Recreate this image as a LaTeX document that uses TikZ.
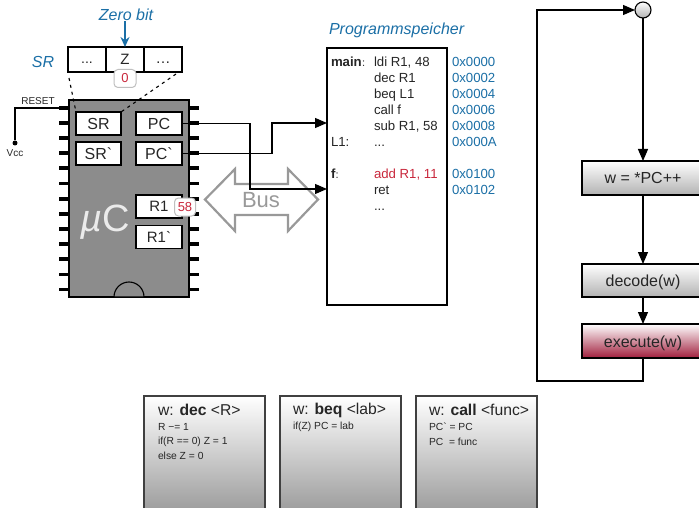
\documentclass[tikz,border=0pt]{standalone}
\usepackage{fontspec}
\newfontfamily\lib{Liberation Sans}
\usetikzlibrary{arrows.meta,shapes.geometric}
\definecolor{chipgray}{HTML}{8C8C8C}
\definecolor{infoblue}{HTML}{1B6FA6}
\definecolor{hotred}{HTML}{C9283C}
\definecolor{execred}{HTML}{A01E3C}
\definecolor{busgray}{HTML}{999999}
\newcommand{\fs}[1]{\fontsize{#1}{#1}\selectfont}
\tikzset{
  every node/.style={font=\lib\fs{13},inner sep=0pt,outer sep=0pt,text=black!85},
  cell/.style={draw=black,line width=1.1pt,fill=white,minimum width=#1,anchor=north west},
  reg/.style={cell=46pt,minimum height=23pt,font=\lib\fs{16}},
  pin/.style={line width=3.2pt,black},
  conn/.style={line width=1.2pt,black},
  flow/.style={conn,-{Triangle[length=12pt,width=10pt]}},
  dashline/.style={line width=1.1pt,black,dash pattern=on 3pt off 4pt},
  badge/.style={draw=black!25,line width=1pt,fill=white,rounded corners=4pt,text=hotred,anchor=north west},
  stepbox/.style={draw=black,line width=1.1pt,minimum width=122pt,top color=white,bottom color=black!30,font=\lib\fs{16},anchor=north west},
  card/.style={draw=black!75,line width=1.1pt,minimum width=121pt,minimum height=125pt,top color=white,bottom color=black!42,anchor=north west},
  cardhead/.style={anchor=west,font=\lib\fs{15.7}},
  cardbody/.style={anchor=west,font=\lib\fs{10.3}},
  memtext/.style={anchor=west,font=\lib\fs{13.2},text height=9.5pt,text depth=2.5pt},
  addr/.style={anchor=west,font=\lib\fs{13.2},text=infoblue,text height=9.5pt,text depth=2.5pt},
  bluehead/.style={font=\lib\itshape\fs{16},text=infoblue}
}
\begin{document}
\begin{tikzpicture}[x=1pt,y=-1pt]
\useasboundingbox (0,0) rectangle (699,508);
\clip (0,0) rectangle (699,508);
% chip pins
\foreach \y in {108,123,138,153,168,183.5,199,214,229,244,259,274.5,289.5}{
  \draw[pin] (59,\y) -- (69,\y);
  \draw[pin] (189,\y) -- (199,\y);
}
% chip
\node[draw=black,line width=1.1pt,fill=chipgray,minimum width=120pt,minimum height=197pt,anchor=north west] (chip) at (69,100) {};
\draw[line width=1.1pt,black,fill=chipgray] (114,297) arc[start angle=180,end angle=0,radius=15pt] -- cycle;
\node[font=\lib\fs{38},text=black!8] (mu) at (105,222) {{\itshape µ}C};
% registers
\node[reg,minimum width=45pt] (sr) at (76,112) {SR};
\node[reg] (pc) at (136,112) {PC};
\node[reg,minimum width=45pt] (srb) at (76,142) {SR`};
\node[reg] (pcb) at (136,142) {PC`};
\node[reg,font=\lib\fs{15}] (r1) at (136,195) {R1};
\node[reg,font=\lib\fs{15}] (r1b) at (136,225.5) {R1`};
\node[badge,minimum width=21pt,minimum height=18pt] (r1val) at (174.5,198) {58};
% status register detail
\node[cell=38pt,minimum height=25pt,text height=10pt,text depth=2pt,font=\lib\fs{14}] (sa) at (68,47) {...};
\node[cell=38pt,minimum height=25pt,font=\lib\fs{15}] (sz) at (106,47) {Z};
\node[cell=38pt,minimum height=25pt,text height=10pt,text depth=2pt,font=\lib\fs{15}] (sc) at (144,47) {…};
\node[badge,minimum width=22pt,minimum height=18pt] (zval) at (114,69.5) {0};
\node[bluehead] (srlab) at (43,62) {SR};
\node[bluehead] (zlab) at (126,15) {Zero bit};
\draw[line width=1.4pt,infoblue,-{Stealth[length=10pt,width=9pt]}] (zlab.south -| sz.north) -- (sz.north);
\coordinate (dl) at (69,78);
\coordinate (dr) at (176,74);
\draw[dashline] (dl) -- (sr.north west);
\draw[dashline] (dr) -- (sr.north east);
% reset
\node[font=\lib\fs{10}] (reset) at (38,101.5) {RESET};
\coordinate (rp) at (59,108);
\node[circle,fill=black,minimum size=5pt] (vdot) at (15,143) {};
\node[font=\lib\fs{10}] (vcc) at (15,153.5) {Vcc};
\draw[conn] (rp) -| (vdot);
% bus
\draw[busgray,line width=2.2pt,fill=white,line join=miter]
  (205,199.5) -- (235,169) -- (235,184) -- (288,184) -- (288,169) -- (318,199.5)
  -- (288,231) -- (288,215) -- (235,215) -- (235,231) -- cycle;
\node[font=\lib\fs{22},text=busgray] (bus) at (261,200) {Bus};
% program memory
\node[draw=black,line width=1.1pt,fill=white,minimum width=120pt,minimum height=257pt,anchor=north west] (mem) at (327,48) {};
\node[bluehead,anchor=west] (memlab) at (329,30) {Programmspeicher};
\node[memtext] (m1) at (331,63) {\bfseries main\normalfont:};
\node[memtext] (m6) at (331,143) {L1:};
\node[memtext] (m7) at (331,175) {\bfseries f\normalfont:};
\node[memtext] (t1) at (374,63) {ldi R1, 48};
\node[memtext] (t2) at (374,79) {dec R1};
\node[memtext] (t3) at (374,95) {beq L1};
\node[memtext] (t4) at (374,111) {call f};
\node[memtext] (t5) at (374,127) {sub R1, 58};
\node[memtext] (t6) at (374,143) {...};
\node[memtext,text=hotred] (t7) at (374,175) {add R1, 11};
\node[memtext] (t8) at (374,191) {ret};
\node[memtext] (t9) at (374,207.5) {...};
\node[addr] (a1) at (452,63) {0x0000};
\node[addr] (a2) at (452,79) {0x0002};
\node[addr] (a3) at (452,95) {0x0004};
\node[addr] (a4) at (452,111) {0x0006};
\node[addr] (a5) at (452,127) {0x0008};
\node[addr] (a6) at (452,143) {0x000A};
\node[addr] (a7) at (452,175) {0x0100};
\node[addr] (a8) at (452,191) {0x0102};
% PC connectors
\coordinate (ina) at (mem.west |- 0,123);
\coordinate (inb) at (mem.west |- 0,189);
\coordinate (ta) at (272,123);
\coordinate (tb) at (250,189);
\draw[flow] (pc.east) -| (tb) -- (inb);
\draw[flow] (pcb.east) -| (ta) -- (ina);
% fetch/decode/execute
\node[circle,draw=black,line width=1.1pt,minimum size=16pt,top color=white,bottom color=black!30] (start) at (643,10) {};
\node[stepbox,minimum height=34pt,text height=12pt,text depth=1pt] (fetch) at (582,161) {w = *PC++};
\node[stepbox,minimum height=33pt,text height=13pt,text depth=1pt] (decode) at (582,264) {decode(w)};
\node[stepbox,minimum height=34pt,text height=14pt,text depth=0.5pt,top color=white,bottom color=execred] (exec) at (582,324) {execute(w)};
\coordinate (lb) at (537,381);
\draw[flow] (start) -- (start |- fetch.north);
\draw[flow] (start |- fetch.south) -- (start |- decode.north);
\draw[flow] (start |- decode.south) -- (start |- exec.north);
\draw[flow] (start |- exec.south) |- (lb) |- (start.west);
% instruction cards
\node[card] (c1) at (144,396) {};
\node[card] (c2) at (280,396) {};
\node[card] (c3) at (416,396) {};
\node[cardhead] (h1) at (158,410) {w: \textbf{dec} <R>};
\node[cardhead] (h2) at (293,410) {w: \textbf{beq} <lab>};
\node[cardhead] (h3) at (429,410) {w: \textbf{call} <func>};
\node[cardbody] (b11) at (158,427) {R −= 1};
\node[cardbody] (b12) at (158,441.5) {if(R == 0) Z = 1};
\node[cardbody] (b13) at (158,455.5) {else Z = 0};
\node[cardbody] (b21) at (293,427) {if(Z) PC = lab};
\node[cardbody] (b31) at (429,427) {PC` = PC};
\node[cardbody] (b32) at (429,441.5) {PC\ \ = func};
\end{tikzpicture}
\end{document}
